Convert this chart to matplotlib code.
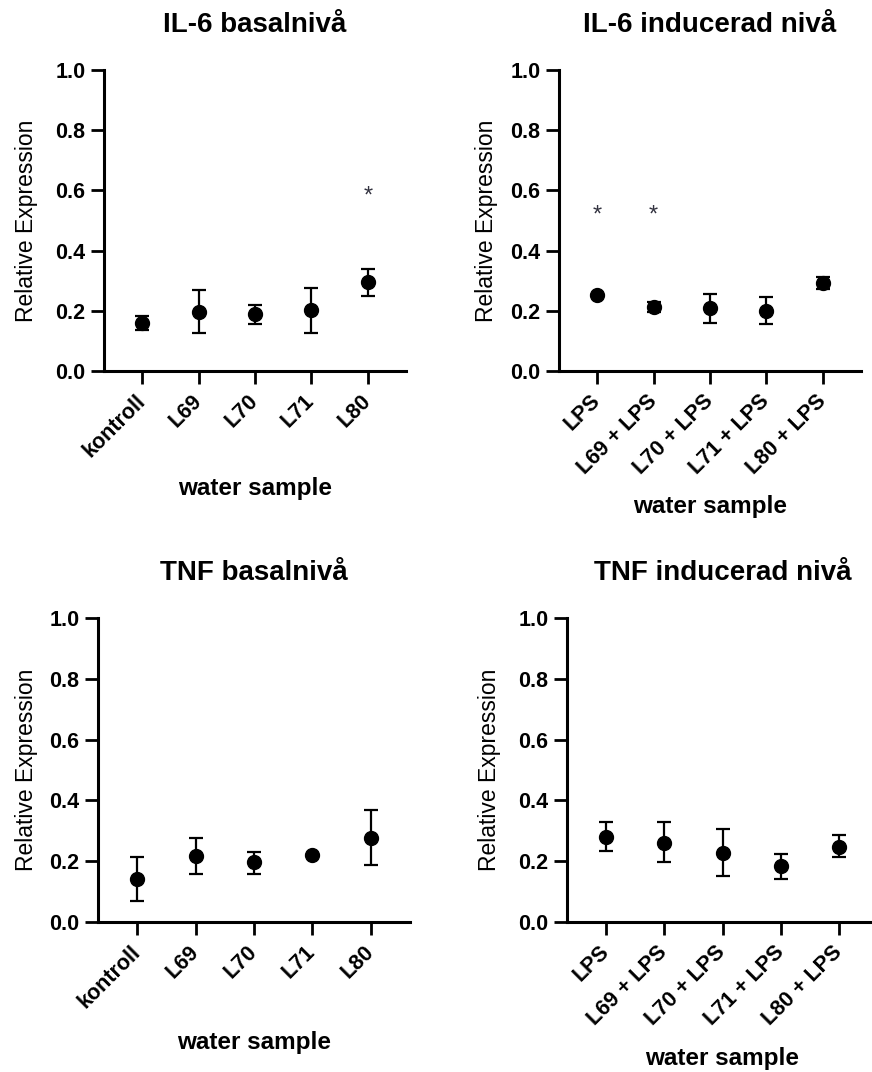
import matplotlib
matplotlib.use("Agg")
import matplotlib.pyplot as plt
import numpy as np

plt.rcParams['font.family'] = ['Liberation Sans', 'DejaVu Sans']

# ---- data ----
basal_labels = ["kontroll", "L69", "L70", "L71", "L80"]
induced_labels = ["LPS", "L69 + LPS", "L70 + LPS", "L71 + LPS", "L80 + LPS"]

il6_basal_mean = [0.161, 0.195, 0.189, 0.203, 0.295]
il6_basal_low = [0.136, 0.125, 0.156, 0.125, 0.250]
il6_basal_high = [0.184, 0.268, 0.219, 0.277, 0.340]
il6_basal_stars = [None, None, None, None, 0.587]

il6_ind_mean = [0.252, 0.213, 0.208, 0.199, 0.293]
il6_ind_low = [0.252, 0.197, 0.161, 0.156, 0.274]
il6_ind_high = [0.252, 0.230, 0.257, 0.246, 0.313]
il6_ind_stars = [0.524, 0.524, None, None, None]

tnf_basal_mean = [0.143, 0.218, 0.196, 0.220, 0.276]
tnf_basal_low = [0.070, 0.159, 0.159, 0.220, 0.186]
tnf_basal_high = [0.213, 0.276, 0.229, 0.220, 0.370]

tnf_ind_mean = [0.280, 0.260, 0.227, 0.184, 0.247]
tnf_ind_low = [0.234, 0.197, 0.151, 0.140, 0.213]
tnf_ind_high = [0.330, 0.330, 0.307, 0.223, 0.287]

titles = ["IL-6 basalnivå", "IL-6 inducerad nivå", "TNF basalnivå", "TNF inducerad nivå"]
ylabel = "Relative Expression"
xlabel = "water sample"

W, H = 872, 1072
fig = plt.figure(figsize=(W / 100, H / 100), dpi=100)

def px_axes(left, right, top, bottom):
    return fig.add_axes([left / W, 1 - bottom / H, (right - left) / W, (bottom - top) / H])

panels = [
    (px_axes(104, 406, 70, 371), basal_labels, il6_basal_mean, il6_basal_low, il6_basal_high, il6_basal_stars, titles[0], 26, 488),
    (px_axes(559, 861, 70, 371), induced_labels, il6_ind_mean, il6_ind_low, il6_ind_high, il6_ind_stars, titles[1], 486, 507),
    (px_axes(98, 410, 618, 922), basal_labels, tnf_basal_mean, tnf_basal_low, tnf_basal_high, [None] * 5, titles[2], 26, 1042),
    (px_axes(567, 878, 618, 922), induced_labels, tnf_ind_mean, tnf_ind_low, tnf_ind_high, [None] * 5, titles[3], 489, 1058),
]

for ax, labels, mean, low, high, stars, title, ylab_x, xlab_y in panels:
    x = np.arange(len(labels))
    mean = np.array(mean)
    yerr = np.vstack([mean - np.array(low), np.array(high) - mean])
    ax.errorbar(x, mean, yerr=yerr, fmt='o', color='black', markersize=10,
                elinewidth=1.6, capsize=5, capthick=1.6, zorder=3, clip_on=False)
    for xi, s in zip(x, stars):
        if s is not None:
            ax.text(xi, s - 0.008, "*", ha='center', va='center', fontsize=17, color='#333340')
    ax.set_xlim(-0.675, len(labels) - 1 + 0.675)
    ax.set_ylim(0, 1.0)
    ax.set_yticks([0, 0.2, 0.4, 0.6, 0.8, 1.0])
    ax.set_yticklabels(["0.0", "0.2", "0.4", "0.6", "0.8", "1.0"], fontsize=15.5, fontweight='bold')
    ax.set_xticks(x)
    ax.set_xticklabels(labels, rotation=45, ha='right', va='center', rotation_mode='anchor',
                       fontsize=15.5, fontweight='bold')
    for sp in ['top', 'right']:
        ax.spines[sp].set_visible(False)
    for sp in ['left', 'bottom']:
        ax.spines[sp].set_linewidth(2.2)
    ax.tick_params(axis='both', length=9.5, width=2.0, color='black')
    ax.tick_params(axis='x', pad=10)
    ax.tick_params(axis='y', pad=4)
    ax.set_title(title, fontsize=20, fontweight='bold', pad=27)
    pos = ax.get_position()
    yc = (pos.y0 + pos.y1) / 2
    fig.text(ylab_x / W, yc, ylabel, rotation=90, ha='center', va='center', fontsize=16.5)
    xc = (pos.x0 + pos.x1) / 2
    fig.text(xc, 1 - xlab_y / H, xlabel, ha='center', va='center', fontsize=17.5, fontweight='bold')
    ax.patch.set_visible(False)

fig.savefig("out.png", dpi=100)
